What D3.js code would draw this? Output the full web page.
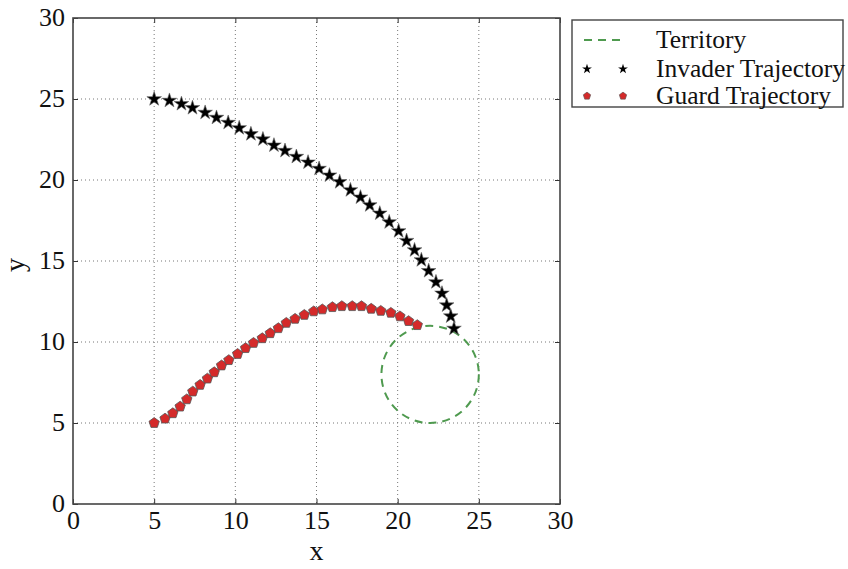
<!DOCTYPE html>
<html>
<head>
<meta charset="utf-8">
<script src="https://cdn.jsdelivr.net/npm/d3@7"></script>
<style>
  body { margin: 0; background: #fff; }
  svg text { fill: #111; }
</style>
</head>
<body>
<div id="chart"></div>
<script>
// invader trajectory (stars)
const invaderX = [5.0, 5.94, 6.68, 7.36, 8.14, 8.84, 9.56, 10.24, 10.96, 11.70, 12.38, 13.06, 13.76, 14.48, 15.16, 15.80,
  16.43, 17.09, 17.71, 18.28, 18.90, 19.48, 20.06, 20.55, 21.04, 21.46, 21.91, 22.36, 22.73, 23.02, 23.27, 23.47];
const invaderY = [25.0, 24.90, 24.70, 24.45, 24.16, 23.85, 23.54, 23.21, 22.84, 22.52, 22.14, 21.81, 21.44, 21.09, 20.70, 20.29,
  19.88, 19.38, 18.93, 18.45, 17.94, 17.40, 16.85, 16.25, 15.67, 15.06, 14.39, 13.70, 13.00, 12.27, 11.59, 10.83];

// guard trajectory (pentagons)
const guardX = [5.0, 5.67, 6.15, 6.60, 7.01, 7.38, 7.83, 8.28, 8.70, 9.15, 9.60, 10.14, 10.63, 11.12, 11.66, 12.15,
  12.65, 13.14, 13.68, 14.25, 14.83, 15.36, 15.98, 16.56, 17.20, 17.77, 18.37, 18.96, 19.58, 20.14, 20.67, 21.21];
const guardY = [5.0, 5.27, 5.60, 6.01, 6.46, 6.94, 7.35, 7.74, 8.13, 8.55, 8.88, 9.26, 9.62, 9.94, 10.23, 10.54,
  10.85, 11.18, 11.43, 11.67, 11.89, 12.01, 12.15, 12.21, 12.21, 12.21, 12.05, 11.92, 11.80, 11.58, 11.29, 11.04];

// territory circle
const territory = { cx: 22, cy: 8, r: 3 };

const xTicks = [0, 5, 10, 15, 20, 25, 30];
const yTicks = [0, 5, 10, 15, 20, 25, 30];
const legendLabels = ['Territory', 'Invader Trajectory', 'Guard Trajectory'];

const width = 848;
const height = 569;
const margin = { top: 18, right: 288, bottom: 65, left: 73 };
const w = width - margin.left - margin.right;
const h = height - margin.top - margin.bottom;
const serif = "'Liberation Serif', 'Times New Roman', serif";

const svg = d3.select('#chart').append('svg')
  .attr('width', width)
  .attr('height', height);

const g = svg.append('g')
  .attr('transform', `translate(${margin.left},${margin.top})`);

const x = d3.scaleLinear().domain([0, 30]).range([0, w]);
const y = d3.scaleLinear().domain([0, 30]).range([h, 0]);

const green = '#4f9a4f';
const red = '#d42a2a';

// grid
g.append('g').selectAll('line')
  .data(xTicks.slice(1, -1))
  .enter().append('line')
  .attr('x1', d => x(d)).attr('x2', d => x(d))
  .attr('y1', 0).attr('y2', h)
  .attr('stroke', '#777').attr('stroke-width', 1)
  .attr('stroke-dasharray', '1,3');

g.append('g').selectAll('line')
  .data(yTicks.slice(1, -1))
  .enter().append('line')
  .attr('y1', d => y(d)).attr('y2', d => y(d))
  .attr('x1', 0).attr('x2', w)
  .attr('stroke', '#777').attr('stroke-width', 1)
  .attr('stroke-dasharray', '1,3');

// axes with inward ticks
const xAxis = g.append('g')
  .attr('transform', `translate(0,${h})`)
  .call(d3.axisBottom(x).tickValues(xTicks).tickSize(-5).tickPadding(5));
const xAxisTop = g.append('g')
  .call(d3.axisTop(x).tickValues(xTicks).tickSize(-5).tickFormat(''));
const yAxis = g.append('g')
  .call(d3.axisLeft(y).tickValues(yTicks).tickSize(-5).tickPadding(8));
const yAxisRight = g.append('g')
  .attr('transform', `translate(${w},0)`)
  .call(d3.axisRight(y).tickValues(yTicks).tickSize(-5).tickFormat(''));

[xAxis, xAxisTop, yAxis, yAxisRight].forEach(a => {
  a.attr('font-family', serif).attr('font-size', 26);
  a.select('.domain').remove();
  a.selectAll('line').attr('stroke', '#333');
  a.selectAll('text').attr('fill', '#111');
});
xAxis.selectAll('text').attr('dy', '0.75em');
yAxis.selectAll('text').attr('dy', '0.3em');

// frame
g.append('rect')
  .attr('width', w).attr('height', h)
  .attr('fill', 'none')
  .attr('stroke', '#444')
  .attr('stroke-width', 1.6);

// territory
g.append('ellipse')
  .attr('cx', x(territory.cx)).attr('cy', y(territory.cy))
  .attr('rx', x(territory.r) - x(0)).attr('ry', y(0) - y(territory.r))
  .attr('fill', 'none')
  .attr('stroke', green)
  .attr('stroke-width', 2)
  .attr('stroke-dasharray', '8,6');

const star = d3.symbol().type(d3.symbolStar).size(66);
const pentaType = {
  draw(ctx, size) {
    const r = Math.sqrt(size / 2.38);
    for (let i = 0; i < 5; i++) {
      const a = -Math.PI / 2 + i * 2 * Math.PI / 5;
      if (i === 0) ctx.moveTo(r * Math.cos(a), r * Math.sin(a));
      else ctx.lineTo(r * Math.cos(a), r * Math.sin(a));
    }
    ctx.closePath();
  }
};
const penta = d3.symbol().type(pentaType).size(70);

const guard = guardX.map((d, i) => [d, guardY[i]]);
const invader = invaderX.map((d, i) => [d, invaderY[i]]);

g.append('g').selectAll('path')
  .data(guard)
  .enter().append('path')
  .attr('d', penta)
  .attr('transform', d => `translate(${x(d[0])},${y(d[1])})`)
  .attr('fill', red)
  .attr('stroke', '#555')
  .attr('stroke-width', 0.8);

g.append('g').selectAll('path')
  .data(invader)
  .enter().append('path')
  .attr('d', star)
  .attr('transform', d => `translate(${x(d[0])},${y(d[1])})`)
  .attr('fill', '#000')
  .attr('stroke', '#666')
  .attr('stroke-width', 0.6);

// axis labels
svg.append('text')
  .attr('x', margin.left + w / 2).attr('y', 560)
  .attr('text-anchor', 'middle')
  .attr('font-family', serif)
  .attr('font-size', 28)
  .text('x');
svg.append('text')
  .attr('transform', `translate(24,${margin.top + h / 2 + 4}) rotate(-90)`)
  .attr('text-anchor', 'middle')
  .attr('font-family', serif)
  .attr('font-size', 28)
  .text('y');

// legend
const leg = svg.append('g').attr('transform', 'translate(572,20)');
leg.append('rect')
  .attr('width', 271).attr('height', 87)
  .attr('fill', '#fff')
  .attr('stroke', '#444')
  .attr('stroke-width', 1.4);

const rowY = [20, 49, 76];
leg.append('line')
  .attr('x1', 12).attr('x2', 52)
  .attr('y1', rowY[0]).attr('y2', rowY[0])
  .attr('stroke', green).attr('stroke-width', 2)
  .attr('stroke-dasharray', '8,6');

const legStar = d3.symbol().type(d3.symbolStar).size(30);
const legPenta = d3.symbol().type(pentaType).size(36);
[15, 51].forEach(px => {
  leg.append('path').attr('d', legStar)
    .attr('transform', `translate(${px},${rowY[1]})`)
    .attr('fill', '#000');
  leg.append('path').attr('d', legPenta)
    .attr('transform', `translate(${px},${rowY[2]})`)
    .attr('fill', red).attr('stroke', '#555').attr('stroke-width', 0.6);
});

leg.selectAll('text.lab')
  .data(legendLabels)
  .enter().append('text')
  .attr('class', 'lab')
  .attr('x', 84)
  .attr('y', (d, i) => rowY[i])
  .attr('dy', '0.33em')
  .attr('font-family', serif)
  .attr('font-size', 25.5)
  .text(d => d);
</script>
</body>
</html>
